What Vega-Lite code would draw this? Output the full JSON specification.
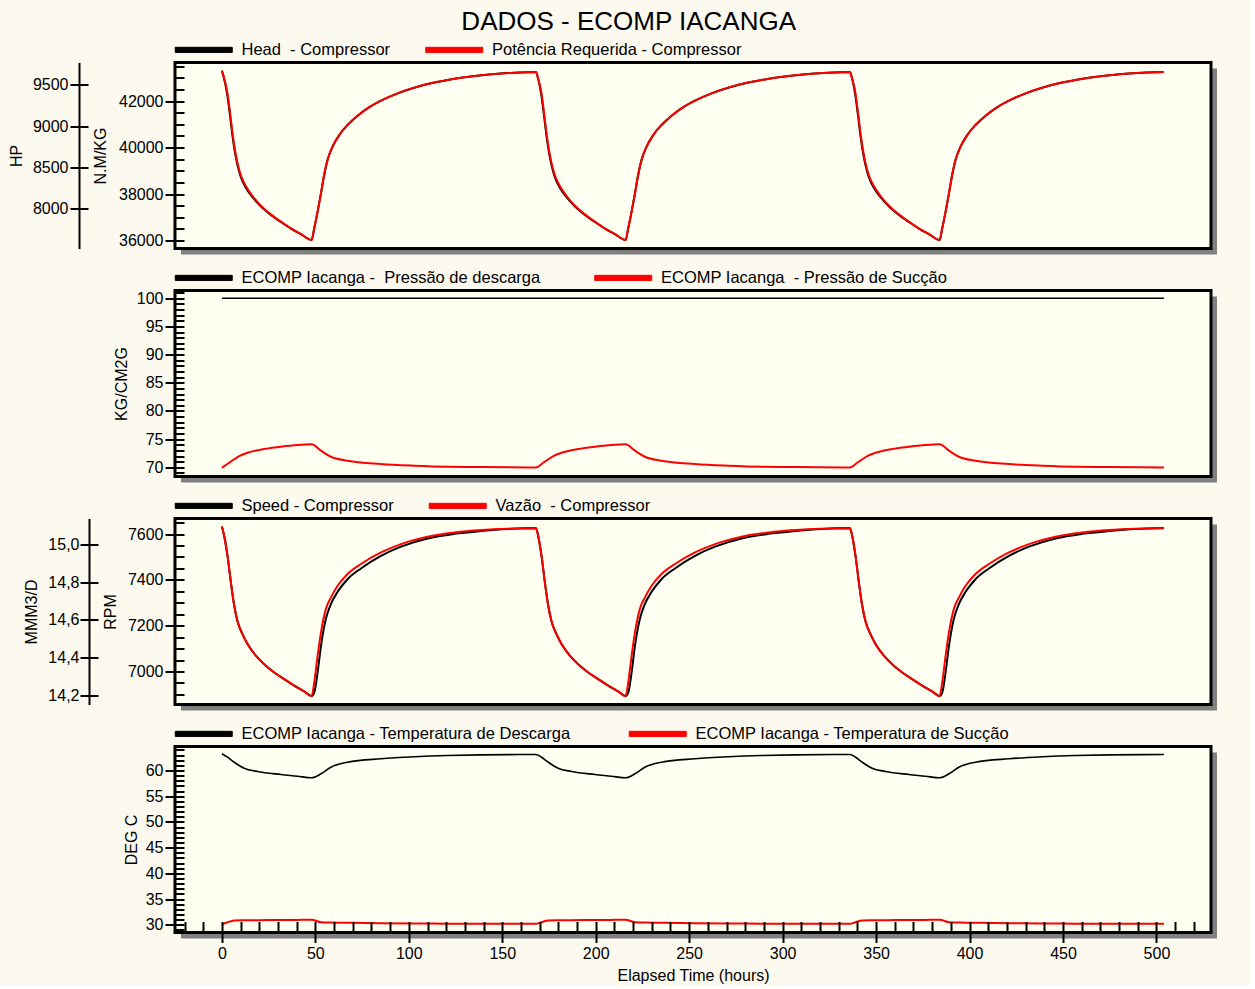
{
  "background": "#FCF9EF",
  "padding": {"left": 8, "top": 8.5, "right": 34, "bottom": 2},
  "title": {"text": "DADOS - ECOMP IACANGA", "fontSize": 26, "font": "Liberation Sans", "fontWeight": "normal", "color": "black", "anchor": "middle", "offset": 7, "dx": 16},
  "spacing": 42,
  "bounds": "flush",
  "resolve": {"scale": {"color": "independent"}},
  "config": {
    "view": {"stroke": null},
    "font": "Liberation Sans",
    "line": {"interpolate": "monotone"},
    "axis": {"labelFont": "Liberation Sans", "labelFontSize": 16, "labelColor": "black", "titleFont": "Liberation Sans", "titleFontSize": 16, "titleFontWeight": "normal", "titleColor": "black", "tickColor": "black", "tickWidth": 2, "domainColor": "black", "domainWidth": 2, "grid": false, "zindex": 1, "labelOverlap": false, "labelFlush": false},
    "legend": {"labelFont": "Liberation Sans", "labelFontSize": 16.5, "labelColor": "black", "labelLimit": 0}
  },
  "datasets": {
    "p1": [
      {"t":0,"head":43305,"hp":9673},{"t":1.2,"head":42960,"hp":9580},{"t":3,"head":42200,"hp":9399},{"t":4.4,"head":41330,"hp":9157},{"t":5.7,"head":40480,"hp":8915},{"t":7,"head":39780,"hp":8714},{"t":8.4,"head":39220,"hp":8552},{"t":10.1,"head":38730,"hp":8411},{"t":12.8,"head":38270,"hp":8278},{"t":16.4,"head":37860,"hp":8157},{"t":20.9,"head":37460,"hp":8040},{"t":26.2,"head":37100,"hp":7935},{"t":31.6,"head":36795,"hp":7847},{"t":36.9,"head":36515,"hp":7766},{"t":42.3,"head":36275,"hp":7697},{"t":48,"head":36022,"hp":7625},{"t":49.4,"head":36524,"hp":7766},{"t":51.2,"head":37240,"hp":7968},{"t":53,"head":38029,"hp":8189},{"t":54.7,"head":38817,"hp":8411},{"t":56.5,"head":39463,"hp":8593},{"t":59.2,"head":40036,"hp":8754},{"t":62.8,"head":40538,"hp":8895},{"t":67.2,"head":40968,"hp":9016},{"t":72.6,"head":41369,"hp":9129},{"t":77.9,"head":41685,"hp":9218},{"t":85.1,"head":42014,"hp":9310},{"t":94,"head":42330,"hp":9399},{"t":102.9,"head":42573,"hp":9468},{"t":111.8,"head":42760,"hp":9520},{"t":120.7,"head":42903,"hp":9560},{"t":129.6,"head":43018,"hp":9593},{"t":138.6,"head":43104,"hp":9617},{"t":147.5,"head":43176,"hp":9637},{"t":156.4,"head":43219,"hp":9649},{"t":168,"head":43247,"hp":9657},
      {"t":169.2,"head":42960,"hp":9580},{"t":171,"head":42200,"hp":9399},{"t":172.4,"head":41330,"hp":9157},{"t":173.7,"head":40480,"hp":8915},{"t":175,"head":39780,"hp":8714},{"t":176.4,"head":39220,"hp":8552},{"t":178.1,"head":38730,"hp":8411},{"t":180.8,"head":38270,"hp":8278},{"t":184.4,"head":37860,"hp":8157},{"t":188.9,"head":37460,"hp":8040},{"t":194.2,"head":37100,"hp":7935},{"t":199.6,"head":36795,"hp":7847},{"t":204.9,"head":36515,"hp":7766},{"t":210.3,"head":36275,"hp":7697},{"t":216,"head":36022,"hp":7625},{"t":217.4,"head":36524,"hp":7766},{"t":219.2,"head":37240,"hp":7968},{"t":221,"head":38029,"hp":8189},{"t":222.7,"head":38817,"hp":8411},{"t":224.5,"head":39463,"hp":8593},{"t":227.2,"head":40036,"hp":8754},{"t":230.8,"head":40538,"hp":8895},{"t":235.2,"head":40968,"hp":9016},{"t":240.6,"head":41369,"hp":9129},{"t":245.9,"head":41685,"hp":9218},{"t":253.1,"head":42014,"hp":9310},{"t":262,"head":42330,"hp":9399},{"t":270.9,"head":42573,"hp":9468},{"t":279.8,"head":42760,"hp":9520},{"t":288.7,"head":42903,"hp":9560},{"t":297.6,"head":43018,"hp":9593},{"t":306.6,"head":43104,"hp":9617},{"t":315.5,"head":43176,"hp":9637},{"t":324.4,"head":43219,"hp":9649},{"t":336,"head":43247,"hp":9657},
      {"t":337.2,"head":42960,"hp":9580},{"t":339,"head":42200,"hp":9399},{"t":340.4,"head":41330,"hp":9157},{"t":341.7,"head":40480,"hp":8915},{"t":343,"head":39780,"hp":8714},{"t":344.4,"head":39220,"hp":8552},{"t":346.1,"head":38730,"hp":8411},{"t":348.8,"head":38270,"hp":8278},{"t":352.4,"head":37860,"hp":8157},{"t":356.9,"head":37460,"hp":8040},{"t":362.2,"head":37100,"hp":7935},{"t":367.6,"head":36795,"hp":7847},{"t":372.9,"head":36515,"hp":7766},{"t":378.3,"head":36275,"hp":7697},{"t":384,"head":36022,"hp":7625},{"t":385.4,"head":36524,"hp":7766},{"t":387.2,"head":37240,"hp":7968},{"t":389,"head":38029,"hp":8189},{"t":390.7,"head":38817,"hp":8411},{"t":392.5,"head":39463,"hp":8593},{"t":395.2,"head":40036,"hp":8754},{"t":398.8,"head":40538,"hp":8895},{"t":403.2,"head":40968,"hp":9016},{"t":408.6,"head":41369,"hp":9129},{"t":413.9,"head":41685,"hp":9218},{"t":421.1,"head":42014,"hp":9310},{"t":430,"head":42330,"hp":9399},{"t":438.9,"head":42573,"hp":9468},{"t":447.8,"head":42760,"hp":9520},{"t":456.7,"head":42903,"hp":9560},{"t":465.6,"head":43018,"hp":9593},{"t":474.6,"head":43104,"hp":9617},{"t":483.5,"head":43176,"hp":9637},{"t":492.4,"head":43219,"hp":9649},{"t":504,"head":43247,"hp":9657}
    ],
    "p2": [
      {"t":0,"pd":100,"ps":69.93},{"t":3.9,"pd":100,"ps":70.81},{"t":9.3,"pd":100,"ps":72.0},{"t":13.7,"pd":100,"ps":72.59},{"t":22.6,"pd":100,"ps":73.25},{"t":31.6,"pd":100,"ps":73.66},{"t":40.4,"pd":100,"ps":73.96},{"t":48,"pd":100,"ps":74.08},{"t":53,"pd":100,"ps":72.95},{"t":58.3,"pd":100,"ps":71.88},{"t":67.2,"pd":100,"ps":71.17},{"t":85,"pd":100,"ps":70.58},{"t":103,"pd":100,"ps":70.28},{"t":120.7,"pd":100,"ps":70.1},{"t":138.6,"pd":100,"ps":70.05},{"t":168,"pd":100,"ps":69.98},
      {"t":171.9,"pd":100,"ps":70.81},{"t":177.3,"pd":100,"ps":72.0},{"t":181.7,"pd":100,"ps":72.59},{"t":190.6,"pd":100,"ps":73.25},{"t":199.6,"pd":100,"ps":73.66},{"t":208.4,"pd":100,"ps":73.96},{"t":216,"pd":100,"ps":74.08},{"t":221,"pd":100,"ps":72.95},{"t":226.3,"pd":100,"ps":71.88},{"t":235.2,"pd":100,"ps":71.17},{"t":253,"pd":100,"ps":70.58},{"t":271,"pd":100,"ps":70.28},{"t":288.7,"pd":100,"ps":70.1},{"t":306.6,"pd":100,"ps":70.05},{"t":336,"pd":100,"ps":69.98},
      {"t":339.9,"pd":100,"ps":70.81},{"t":345.3,"pd":100,"ps":72.0},{"t":349.7,"pd":100,"ps":72.59},{"t":358.6,"pd":100,"ps":73.25},{"t":367.6,"pd":100,"ps":73.66},{"t":376.4,"pd":100,"ps":73.96},{"t":384,"pd":100,"ps":74.08},{"t":389,"pd":100,"ps":72.95},{"t":394.3,"pd":100,"ps":71.88},{"t":403.2,"pd":100,"ps":71.17},{"t":421,"pd":100,"ps":70.58},{"t":439,"pd":100,"ps":70.28},{"t":456.7,"pd":100,"ps":70.1},{"t":474.6,"pd":100,"ps":70.05},{"t":504,"pd":100,"ps":69.98}
    ],
    "p3": [
      {"t":0,"rpm":7633,"q":15.093},{"t":1.2,"rpm":7593,"q":15.044},{"t":3,"rpm":7505,"q":14.938},{"t":4.8,"rpm":7389,"q":14.797},{"t":6.6,"rpm":7287,"q":14.675},{"t":8.3,"rpm":7221,"q":14.595},{"t":11,"rpm":7163,"q":14.525},{"t":13.7,"rpm":7120,"q":14.473},{"t":18.2,"rpm":7069,"q":14.411},{"t":22.6,"rpm":7032,"q":14.367},{"t":28,"rpm":6996,"q":14.323},{"t":33.3,"rpm":6967,"q":14.288},{"t":38.7,"rpm":6938,"q":14.253},{"t":44,"rpm":6913,"q":14.223},{"t":48,"rpm":6893,"q":14.198},{"t":49.4,"rpm":6908,"q":14.27},{"t":51.2,"rpm":6996,"q":14.411},{"t":53,"rpm":7112,"q":14.534},{"t":55.6,"rpm":7229,"q":14.657},{"t":58.3,"rpm":7294,"q":14.718},{"t":61.9,"rpm":7348,"q":14.78},{"t":67.2,"rpm":7403,"q":14.842},{"t":74.4,"rpm":7450,"q":14.895},{"t":85.1,"rpm":7505,"q":14.956},{"t":95.8,"rpm":7545,"q":15.0},{"t":110,"rpm":7581,"q":15.039},{"t":124.3,"rpm":7601,"q":15.061},{"t":138.6,"rpm":7613,"q":15.074},{"t":152.8,"rpm":7622,"q":15.081},{"t":168,"rpm":7626,"q":15.084},
      {"t":169.2,"rpm":7593,"q":15.044},{"t":171,"rpm":7505,"q":14.938},{"t":172.8,"rpm":7389,"q":14.797},{"t":174.6,"rpm":7287,"q":14.675},{"t":176.3,"rpm":7221,"q":14.595},{"t":179,"rpm":7163,"q":14.525},{"t":181.7,"rpm":7120,"q":14.473},{"t":186.2,"rpm":7069,"q":14.411},{"t":190.6,"rpm":7032,"q":14.367},{"t":196,"rpm":6996,"q":14.323},{"t":201.3,"rpm":6967,"q":14.288},{"t":206.7,"rpm":6938,"q":14.253},{"t":212,"rpm":6913,"q":14.223},{"t":216,"rpm":6893,"q":14.198},{"t":217.4,"rpm":6908,"q":14.27},{"t":219.2,"rpm":6996,"q":14.411},{"t":221,"rpm":7112,"q":14.534},{"t":223.6,"rpm":7229,"q":14.657},{"t":226.3,"rpm":7294,"q":14.718},{"t":229.9,"rpm":7348,"q":14.78},{"t":235.2,"rpm":7403,"q":14.842},{"t":242.4,"rpm":7450,"q":14.895},{"t":253.1,"rpm":7505,"q":14.956},{"t":263.8,"rpm":7545,"q":15.0},{"t":278,"rpm":7581,"q":15.039},{"t":292.3,"rpm":7601,"q":15.061},{"t":306.6,"rpm":7613,"q":15.074},{"t":320.8,"rpm":7622,"q":15.081},{"t":336,"rpm":7626,"q":15.084},
      {"t":337.2,"rpm":7593,"q":15.044},{"t":339,"rpm":7505,"q":14.938},{"t":340.8,"rpm":7389,"q":14.797},{"t":342.6,"rpm":7287,"q":14.675},{"t":344.3,"rpm":7221,"q":14.595},{"t":347,"rpm":7163,"q":14.525},{"t":349.7,"rpm":7120,"q":14.473},{"t":354.2,"rpm":7069,"q":14.411},{"t":358.6,"rpm":7032,"q":14.367},{"t":364,"rpm":6996,"q":14.323},{"t":369.3,"rpm":6967,"q":14.288},{"t":374.7,"rpm":6938,"q":14.253},{"t":380,"rpm":6913,"q":14.223},{"t":384,"rpm":6893,"q":14.198},{"t":385.4,"rpm":6908,"q":14.27},{"t":387.2,"rpm":6996,"q":14.411},{"t":389,"rpm":7112,"q":14.534},{"t":391.6,"rpm":7229,"q":14.657},{"t":394.3,"rpm":7294,"q":14.718},{"t":397.9,"rpm":7348,"q":14.78},{"t":403.2,"rpm":7403,"q":14.842},{"t":410.4,"rpm":7450,"q":14.895},{"t":421.1,"rpm":7505,"q":14.956},{"t":431.8,"rpm":7545,"q":15.0},{"t":446,"rpm":7581,"q":15.039},{"t":460.3,"rpm":7601,"q":15.061},{"t":474.6,"rpm":7613,"q":15.074},{"t":488.8,"rpm":7622,"q":15.081},{"t":504,"rpm":7626,"q":15.084}
    ],
    "p4": [
      {"t":0,"td":63.25,"ts":30.06},{"t":3,"td":62.59,"ts":30.5},{"t":6.6,"td":61.61,"ts":30.84},{"t":11.9,"td":60.45,"ts":30.88},{"t":19,"td":59.81,"ts":30.9},{"t":31.6,"td":59.22,"ts":30.92},{"t":40.4,"td":58.89,"ts":30.95},{"t":48,"td":58.58,"ts":30.97},{"t":53,"td":59.36,"ts":30.5},{"t":58.3,"td":60.64,"ts":30.44},{"t":67.2,"td":61.61,"ts":30.39},{"t":85.1,"td":62.28,"ts":30.3},{"t":102.9,"td":62.67,"ts":30.25},{"t":120.7,"td":62.92,"ts":30.22},{"t":138.6,"td":63.05,"ts":30.2},{"t":168,"td":63.11,"ts":30.19},
      {"t":171,"td":62.59,"ts":30.5},{"t":174.6,"td":61.61,"ts":30.84},{"t":179.9,"td":60.45,"ts":30.88},{"t":187,"td":59.81,"ts":30.9},{"t":199.6,"td":59.22,"ts":30.92},{"t":208.4,"td":58.89,"ts":30.95},{"t":216,"td":58.58,"ts":30.97},{"t":221,"td":59.36,"ts":30.5},{"t":226.3,"td":60.64,"ts":30.44},{"t":235.2,"td":61.61,"ts":30.39},{"t":253.1,"td":62.28,"ts":30.3},{"t":270.9,"td":62.67,"ts":30.25},{"t":288.7,"td":62.92,"ts":30.22},{"t":306.6,"td":63.05,"ts":30.2},{"t":336,"td":63.11,"ts":30.19},
      {"t":339,"td":62.59,"ts":30.5},{"t":342.6,"td":61.61,"ts":30.84},{"t":347.9,"td":60.45,"ts":30.88},{"t":355,"td":59.81,"ts":30.9},{"t":367.6,"td":59.22,"ts":30.92},{"t":376.4,"td":58.89,"ts":30.95},{"t":384,"td":58.58,"ts":30.97},{"t":389,"td":59.36,"ts":30.5},{"t":394.3,"td":60.64,"ts":30.44},{"t":403.2,"td":61.61,"ts":30.39},{"t":421.1,"td":62.28,"ts":30.3},{"t":438.9,"td":62.67,"ts":30.25},{"t":456.7,"td":62.92,"ts":30.22},{"t":474.6,"td":63.05,"ts":30.2},{"t":504,"td":63.11,"ts":30.19}
    ]
  },
  "vconcat": [
    {
      "name": "p1", "width": 1036, "height": 186,
      "resolve": {"scale": {"y": "independent"}},
      "layer": [
        {
          "data": {"values": [{}]},
          "mark": {"type": "rect", "fill": "#808080", "xOffset": 6, "x2Offset": 6, "yOffset": 6, "y2Offset": 6},
          "encoding": {
            "x": {"datum": -25.1, "type": "quantitative", "scale": {"domain": [-25.1, 529.2], "nice": false, "zero": false}, "axis": null},
            "x2": {"datum": 529.2},
            "y": {"datum": 43656, "type": "quantitative", "scale": {"domain": [35656, 43656], "nice": false, "zero": false}, "axis": null},
            "y2": {"datum": 35656}
          }
        },
        {
          "layer": [
            {
              "data": {"values": [{}]},
              "mark": {"type": "rect", "fill": "#FFFFF2", "stroke": "black", "strokeWidth": 3},
              "encoding": {
                "x": {"datum": -25.1, "type": "quantitative", "scale": {"domain": [-25.1, 529.2], "nice": false, "zero": false}, "axis": null},
                "x2": {"datum": 529.2},
                "y": {"datum": 43656, "type": "quantitative", "scale": {"domain": [35656, 43656], "nice": false, "zero": false},
                      "axis": {"orient": "left", "values": [36000, 38000, 40000, 42000], "format": "d", "tickSize": 10, "labelPadding": 2, "domain": false, "title": "N.M/KG", "titlePadding": 10, "zindex": 1}},
                "y2": {"datum": 35656}
              }
            },
            {
              "data": {"name": "p1"},
              "mark": {"type": "line", "strokeWidth": 2},
              "encoding": {
                "x": {"field": "t", "type": "quantitative", "scale": {"domain": [-25.1, 529.2], "nice": false, "zero": false}, "axis": null},
                "y": {"field": "head", "type": "quantitative", "scale": {"domain": [35656, 43656], "nice": false, "zero": false},
                      "axis": {"orient": "left", "values": [36000, 38000, 40000, 42000], "format": "d", "tickSize": 10, "labelPadding": 2, "domain": false, "title": "N.M/KG", "titlePadding": 10, "zindex": 1}},
                "color": {"datum": "Head\u00a0 - Compressor", "type": "nominal",
                  "scale": {"domain": ["Head\u00a0 - Compressor", "Potência Requerida - Compressor"], "range": ["black", "red"]},
                  "legend": {"orient": "top", "direction": "horizontal", "title": null, "offset": 4.5, "padding": 0, "symbolType": "M-2.67,-0.85L16.33,-0.85L16.33,0.85L-2.67,0.85Z", "symbolSize": 36, "labelOffset": 50, "columnPadding": 32.5,
                    "encode": {"symbols": {"update": {"fill": {"signal": "datum.index === 0 ? 'black' : 'red'"}, "stroke": {"value": "black"}, "strokeWidth": {"value": 1}}}}}}
              }
            }
          ]
        },
        {
          "data": {"name": "p1"},
          "mark": {"type": "line", "strokeWidth": 2},
          "encoding": {
            "x": {"field": "t", "type": "quantitative", "scale": {"domain": [-25.1, 529.2], "nice": false, "zero": false}, "axis": null},
            "y": {"field": "hp", "type": "quantitative", "scale": {"domain": [7522, 9772], "nice": false, "zero": false},
                  "axis": {"orient": "left", "offset": 96, "values": [8000, 8500, 9000, 9500], "format": "d", "tickSize": 9, "labelPadding": 2, "domain": true, "title": "HP", "titlePadding": 8, "zindex": 1}},
            "color": {"datum": "Potência Requerida - Compressor", "type": "nominal"}
          }
        },
        {
          "data": {"name": "p1"},
          "mark": {"type": "line", "opacity": 0},
          "encoding": {
            "x": {"field": "t", "type": "quantitative", "scale": {"domain": [-25.1, 529.2], "nice": false, "zero": false}, "axis": null},
            "y": {"field": "head", "type": "quantitative", "scale": {"domain": [35656, 43656], "nice": false, "zero": false},
                  "axis": {"orient": "right", "offset": -1036, "values": [36000,36500,37000,37500,38000,38500,39000,39500,40000,40500,41000,41500,42000,42500,43000,43500], "tickSize": 9, "labels": false, "domain": false, "title": null, "zindex": 1}}
          }
        },
        {
          "data": {"name": "p1"},
          "mark": {"type": "line", "opacity": 0},
          "encoding": {
            "x": {"field": "t", "type": "quantitative", "scale": {"domain": [-25.1, 529.2], "nice": false, "zero": false}, "axis": null},
            "y": {"field": "hp", "type": "quantitative", "scale": {"domain": [7522, 9772], "nice": false, "zero": false},
                  "axis": {"orient": "right", "offset": -1132, "values": [8000, 8500, 9000, 9500], "tickSize": 9, "labels": false, "domain": false, "title": null, "zindex": 1}}
          }
        }
      ]
    },
    {
      "name": "p2", "width": 1036, "height": 186,
      "resolve": {"scale": {"y": "independent"}},
      "layer": [
        {
          "data": {"values": [{}]},
          "mark": {"type": "rect", "fill": "#808080", "xOffset": 6, "x2Offset": 6, "yOffset": 6, "y2Offset": 6},
          "encoding": {
            "x": {"datum": -25.1, "type": "quantitative", "scale": {"domain": [-25.1, 529.2], "nice": false, "zero": false}, "axis": null},
            "x2": {"datum": 529.2},
            "y": {"datum": 101.38, "type": "quantitative", "scale": {"domain": [68.37, 101.38], "nice": false, "zero": false}, "axis": null},
            "y2": {"datum": 68.37}
          }
        },
        {
          "layer": [
            {
              "data": {"values": [{}]},
              "mark": {"type": "rect", "fill": "#FFFFF2", "stroke": "black", "strokeWidth": 3},
              "encoding": {
                "x": {"datum": -25.1, "type": "quantitative", "scale": {"domain": [-25.1, 529.2], "nice": false, "zero": false}, "axis": null},
                "x2": {"datum": 529.2},
                "y": {"datum": 101.38, "type": "quantitative", "scale": {"domain": [68.37, 101.38], "nice": false, "zero": false},
                      "axis": {"orient": "left", "values": [70, 75, 80, 85, 90, 95, 100], "format": "d", "tickSize": 10, "labelPadding": 2, "domain": false, "title": "KG/CM2G", "titlePadding": 7, "zindex": 1}},
                "y2": {"datum": 68.37}
              }
            },
            {
              "data": {"name": "p2"},
              "mark": {"type": "line", "strokeWidth": 1.6},
              "encoding": {
                "x": {"field": "t", "type": "quantitative", "scale": {"domain": [-25.1, 529.2], "nice": false, "zero": false}, "axis": null},
                "y": {"field": "pd", "type": "quantitative", "scale": {"domain": [68.37, 101.38], "nice": false, "zero": false},
                      "axis": {"orient": "left", "values": [70, 75, 80, 85, 90, 95, 100], "format": "d", "tickSize": 10, "labelPadding": 2, "domain": false, "title": "KG/CM2G", "titlePadding": 7, "zindex": 1}},
                "color": {"datum": "ECOMP Iacanga -\u00a0 Pressão de descarga", "type": "nominal",
                  "scale": {"domain": ["ECOMP Iacanga -\u00a0 Pressão de descarga", "ECOMP Iacanga\u00a0 - Pressão de Sucção"], "range": ["black", "red"]},
                  "legend": {"orient": "top", "direction": "horizontal", "title": null, "offset": 4.5, "padding": 0, "symbolType": "M-2.67,-0.85L16.33,-0.85L16.33,0.85L-2.67,0.85Z", "symbolSize": 36, "labelOffset": 50, "columnPadding": 51.5,
                    "encode": {"symbols": {"update": {"fill": {"signal": "datum.index === 0 ? 'black' : 'red'"}, "stroke": {"value": "black"}, "strokeWidth": {"value": 1}}}}}}
              }
            },
            {
              "data": {"name": "p2"},
              "mark": {"type": "line", "strokeWidth": 2},
              "encoding": {
                "x": {"field": "t", "type": "quantitative", "scale": {"domain": [-25.1, 529.2], "nice": false, "zero": false}, "axis": null},
                "y": {"field": "ps", "type": "quantitative", "scale": {"domain": [68.37, 101.38], "nice": false, "zero": false},
                      "axis": {"orient": "left", "values": [70, 75, 80, 85, 90, 95, 100], "format": "d", "tickSize": 10, "labelPadding": 2, "domain": false, "title": "KG/CM2G", "titlePadding": 7, "zindex": 1}},
                "color": {"datum": "ECOMP Iacanga\u00a0 - Pressão de Sucção", "type": "nominal"}
              }
            }
          ]
        },
        {
          "data": {"name": "p2"},
          "mark": {"type": "line", "opacity": 0},
          "encoding": {
            "x": {"field": "t", "type": "quantitative", "scale": {"domain": [-25.1, 529.2], "nice": false, "zero": false}, "axis": null},
            "y": {"field": "ps", "type": "quantitative", "scale": {"domain": [68.37, 101.38], "nice": false, "zero": false},
                  "axis": {"orient": "right", "offset": -1036, "values": [69,70,71,72,73,74,75,76,77,78,79,80,81,82,83,84,85,86,87,88,89,90,91,92,93,94,95,96,97,98,99,100,101], "tickSize": 9, "labels": false, "domain": false, "title": null, "zindex": 1}}
          }
        }
      ]
    },
    {
      "name": "p3", "width": 1036, "height": 186,
      "resolve": {"scale": {"y": "independent"}},
      "layer": [
        {
          "data": {"values": [{}]},
          "mark": {"type": "rect", "fill": "#808080", "xOffset": 6, "x2Offset": 6, "yOffset": 6, "y2Offset": 6},
          "encoding": {
            "x": {"datum": -25.1, "type": "quantitative", "scale": {"domain": [-25.1, 529.2], "nice": false, "zero": false}, "axis": null},
            "x2": {"datum": 529.2},
            "y": {"datum": 7668, "type": "quantitative", "scale": {"domain": [6856, 7668], "nice": false, "zero": false}, "axis": null},
            "y2": {"datum": 6856}
          }
        },
        {
          "layer": [
            {
              "data": {"values": [{}]},
              "mark": {"type": "rect", "fill": "#FFFFF2", "stroke": "black", "strokeWidth": 3},
              "encoding": {
                "x": {"datum": -25.1, "type": "quantitative", "scale": {"domain": [-25.1, 529.2], "nice": false, "zero": false}, "axis": null},
                "x2": {"datum": 529.2},
                "y": {"datum": 7668, "type": "quantitative", "scale": {"domain": [6856, 7668], "nice": false, "zero": false},
                      "axis": {"orient": "left", "values": [7000, 7200, 7400, 7600], "format": "d", "tickSize": 10, "labelPadding": 2, "domain": false, "title": "RPM", "titlePadding": 9, "zindex": 1}},
                "y2": {"datum": 6856}
              }
            },
            {
              "data": {"name": "p3"},
              "mark": {"type": "line", "strokeWidth": 2},
              "encoding": {
                "x": {"field": "t", "type": "quantitative", "scale": {"domain": [-25.1, 529.2], "nice": false, "zero": false}, "axis": null},
                "y": {"field": "rpm", "type": "quantitative", "scale": {"domain": [6856, 7668], "nice": false, "zero": false},
                      "axis": {"orient": "left", "values": [7000, 7200, 7400, 7600], "format": "d", "tickSize": 10, "labelPadding": 2, "domain": false, "title": "RPM", "titlePadding": 9, "zindex": 1}},
                "color": {"datum": "Speed - Compressor", "type": "nominal",
                  "scale": {"domain": ["Speed - Compressor", "Vazão\u00a0 - Compressor"], "range": ["black", "red"]},
                  "legend": {"orient": "top", "direction": "horizontal", "title": null, "offset": 4.5, "padding": 0, "symbolType": "M-2.67,-0.85L16.33,-0.85L16.33,0.85L-2.67,0.85Z", "symbolSize": 36, "labelOffset": 50, "columnPadding": 33,
                    "encode": {"symbols": {"update": {"fill": {"signal": "datum.index === 0 ? 'black' : 'red'"}, "stroke": {"value": "black"}, "strokeWidth": {"value": 1}}}}}}
              }
            }
          ]
        },
        {
          "data": {"name": "p3"},
          "mark": {"type": "line", "strokeWidth": 2},
          "encoding": {
            "x": {"field": "t", "type": "quantitative", "scale": {"domain": [-25.1, 529.2], "nice": false, "zero": false}, "axis": null},
            "y": {"field": "q", "type": "quantitative", "scale": {"domain": [14.154, 15.135], "nice": false, "zero": false},
                  "axis": {"orient": "left", "offset": 86, "values": [14.2, 14.4, 14.6, 14.8, 15.0], "labelExpr": "replace(format(datum.value, '.1f'), '.', ',')", "tickSize": 9, "labelPadding": 1, "domain": true, "title": "MMM3/D", "titlePadding": 8, "zindex": 1}},
            "color": {"datum": "Vazão\u00a0 - Compressor", "type": "nominal"}
          }
        },
        {
          "data": {"name": "p3"},
          "mark": {"type": "line", "opacity": 0},
          "encoding": {
            "x": {"field": "t", "type": "quantitative", "scale": {"domain": [-25.1, 529.2], "nice": false, "zero": false}, "axis": null},
            "y": {"field": "rpm", "type": "quantitative", "scale": {"domain": [6856, 7668], "nice": false, "zero": false},
                  "axis": {"orient": "right", "offset": -1036, "values": [6900,6950,7000,7050,7100,7150,7200,7250,7300,7350,7400,7450,7500,7550,7600,7650], "tickSize": 9, "labels": false, "domain": false, "title": null, "zindex": 1}}
          }
        },
        {
          "data": {"name": "p3"},
          "mark": {"type": "line", "opacity": 0},
          "encoding": {
            "x": {"field": "t", "type": "quantitative", "scale": {"domain": [-25.1, 529.2], "nice": false, "zero": false}, "axis": null},
            "y": {"field": "q", "type": "quantitative", "scale": {"domain": [14.154, 15.135], "nice": false, "zero": false},
                  "axis": {"orient": "right", "offset": -1122, "values": [14.2, 14.4, 14.6, 14.8, 15.0], "tickSize": 9, "labels": false, "domain": false, "title": null, "zindex": 1}}
          }
        }
      ]
    },
    {
      "name": "p4", "width": 1036, "height": 186,
      "resolve": {"scale": {"x": "independent", "y": "independent"}},
      "layer": [
        {
          "data": {"values": [{}]},
          "mark": {"type": "rect", "fill": "#808080", "xOffset": 6, "x2Offset": 6, "yOffset": 6, "y2Offset": 6},
          "encoding": {
            "x": {"datum": -25.1, "type": "quantitative", "scale": {"domain": [-25.1, 529.2], "nice": false, "zero": false}, "axis": null},
            "x2": {"datum": 529.2},
            "y": {"datum": 64.67, "type": "quantitative", "scale": {"domain": [28.5, 64.67], "nice": false, "zero": false}, "axis": null},
            "y2": {"datum": 28.5}
          }
        },
        {
          "layer": [
            {
              "data": {"values": [{}]},
              "mark": {"type": "rect", "fill": "#FFFFF2", "stroke": "black", "strokeWidth": 3},
              "encoding": {
                "x": {"datum": -25.1, "type": "quantitative", "scale": {"domain": [-25.1, 529.2], "nice": false, "zero": false},
                      "axis": {"orient": "bottom", "values": [0, 50, 100, 150, 200, 250, 300, 350, 400, 450, 500], "format": "d", "tickSize": 10, "labelPadding": 3, "domain": false, "title": "Elapsed Time (hours)", "titlePadding": 5.5, "zindex": 1}},
                "x2": {"datum": 529.2},
                "y": {"datum": 64.67, "type": "quantitative", "scale": {"domain": [28.5, 64.67], "nice": false, "zero": false},
                      "axis": {"orient": "left", "values": [30, 35, 40, 45, 50, 55, 60], "format": "d", "tickSize": 10, "labelPadding": 2, "domain": false, "title": "DEG C", "titlePadding": 6, "zindex": 1}},
                "y2": {"datum": 28.5}
              }
            },
            {
              "data": {"name": "p4"},
              "mark": {"type": "line", "strokeWidth": 1.6},
              "encoding": {
                "x": {"field": "t", "type": "quantitative", "scale": {"domain": [-25.1, 529.2], "nice": false, "zero": false},
                      "axis": {"orient": "bottom", "values": [0, 50, 100, 150, 200, 250, 300, 350, 400, 450, 500], "format": "d", "tickSize": 10, "labelPadding": 3, "domain": false, "title": "Elapsed Time (hours)", "titlePadding": 5.5, "zindex": 1}},
                "y": {"field": "td", "type": "quantitative", "scale": {"domain": [28.5, 64.67], "nice": false, "zero": false},
                      "axis": {"orient": "left", "values": [30, 35, 40, 45, 50, 55, 60], "format": "d", "tickSize": 10, "labelPadding": 2, "domain": false, "title": "DEG C", "titlePadding": 6, "zindex": 1}},
                "color": {"datum": "ECOMP Iacanga - Temperatura de Descarga", "type": "nominal",
                  "scale": {"domain": ["ECOMP Iacanga - Temperatura de Descarga", "ECOMP Iacanga - Temperatura de Sucção"], "range": ["black", "red"]},
                  "legend": {"orient": "top", "direction": "horizontal", "title": null, "offset": 4.5, "padding": 0, "symbolType": "M-2.67,-0.85L16.33,-0.85L16.33,0.85L-2.67,0.85Z", "symbolSize": 36, "labelOffset": 50, "columnPadding": 56,
                    "encode": {"symbols": {"update": {"fill": {"signal": "datum.index === 0 ? 'black' : 'red'"}, "stroke": {"value": "black"}, "strokeWidth": {"value": 1}}}}}}
              }
            },
            {
              "data": {"name": "p4"},
              "mark": {"type": "line", "strokeWidth": 2},
              "encoding": {
                "x": {"field": "t", "type": "quantitative", "scale": {"domain": [-25.1, 529.2], "nice": false, "zero": false},
                      "axis": {"orient": "bottom", "values": [0, 50, 100, 150, 200, 250, 300, 350, 400, 450, 500], "format": "d", "tickSize": 10, "labelPadding": 3, "domain": false, "title": "Elapsed Time (hours)", "titlePadding": 5.5, "zindex": 1}},
                "y": {"field": "ts", "type": "quantitative", "scale": {"domain": [28.5, 64.67], "nice": false, "zero": false},
                      "axis": {"orient": "left", "values": [30, 35, 40, 45, 50, 55, 60], "format": "d", "tickSize": 10, "labelPadding": 2, "domain": false, "title": "DEG C", "titlePadding": 6, "zindex": 1}},
                "color": {"datum": "ECOMP Iacanga - Temperatura de Sucção", "type": "nominal"}
              }
            }
          ]
        },
        {
          "data": {"name": "p4"},
          "mark": {"type": "line", "opacity": 0},
          "encoding": {
            "x": {"field": "t", "type": "quantitative", "scale": {"domain": [-25.1, 529.2], "nice": false, "zero": false},
                  "axis": {"orient": "top", "offset": -186, "values": [-20,-10,0,10,20,30,40,50,60,70,80,90,100,110,120,130,140,150,160,170,180,190,200,210,220,230,240,250,260,270,280,290,300,310,320,330,340,350,360,370,380,390,400,410,420,430,440,450,460,470,480,490,500,510,520], "tickSize": 11, "labels": false, "domain": false, "title": null, "zindex": 1}},
            "y": {"field": "ts", "type": "quantitative", "scale": {"domain": [28.5, 64.67], "nice": false, "zero": false},
                  "axis": {"orient": "right", "offset": -1036, "values": [29,30,31,32,33,34,35,36,37,38,39,40,41,42,43,44,45,46,47,48,49,50,51,52,53,54,55,56,57,58,59,60,61,62,63,64], "tickSize": 9, "labels": false, "domain": false, "title": null, "zindex": 1}}
          }
        }
      ]
    }
  ]
}
